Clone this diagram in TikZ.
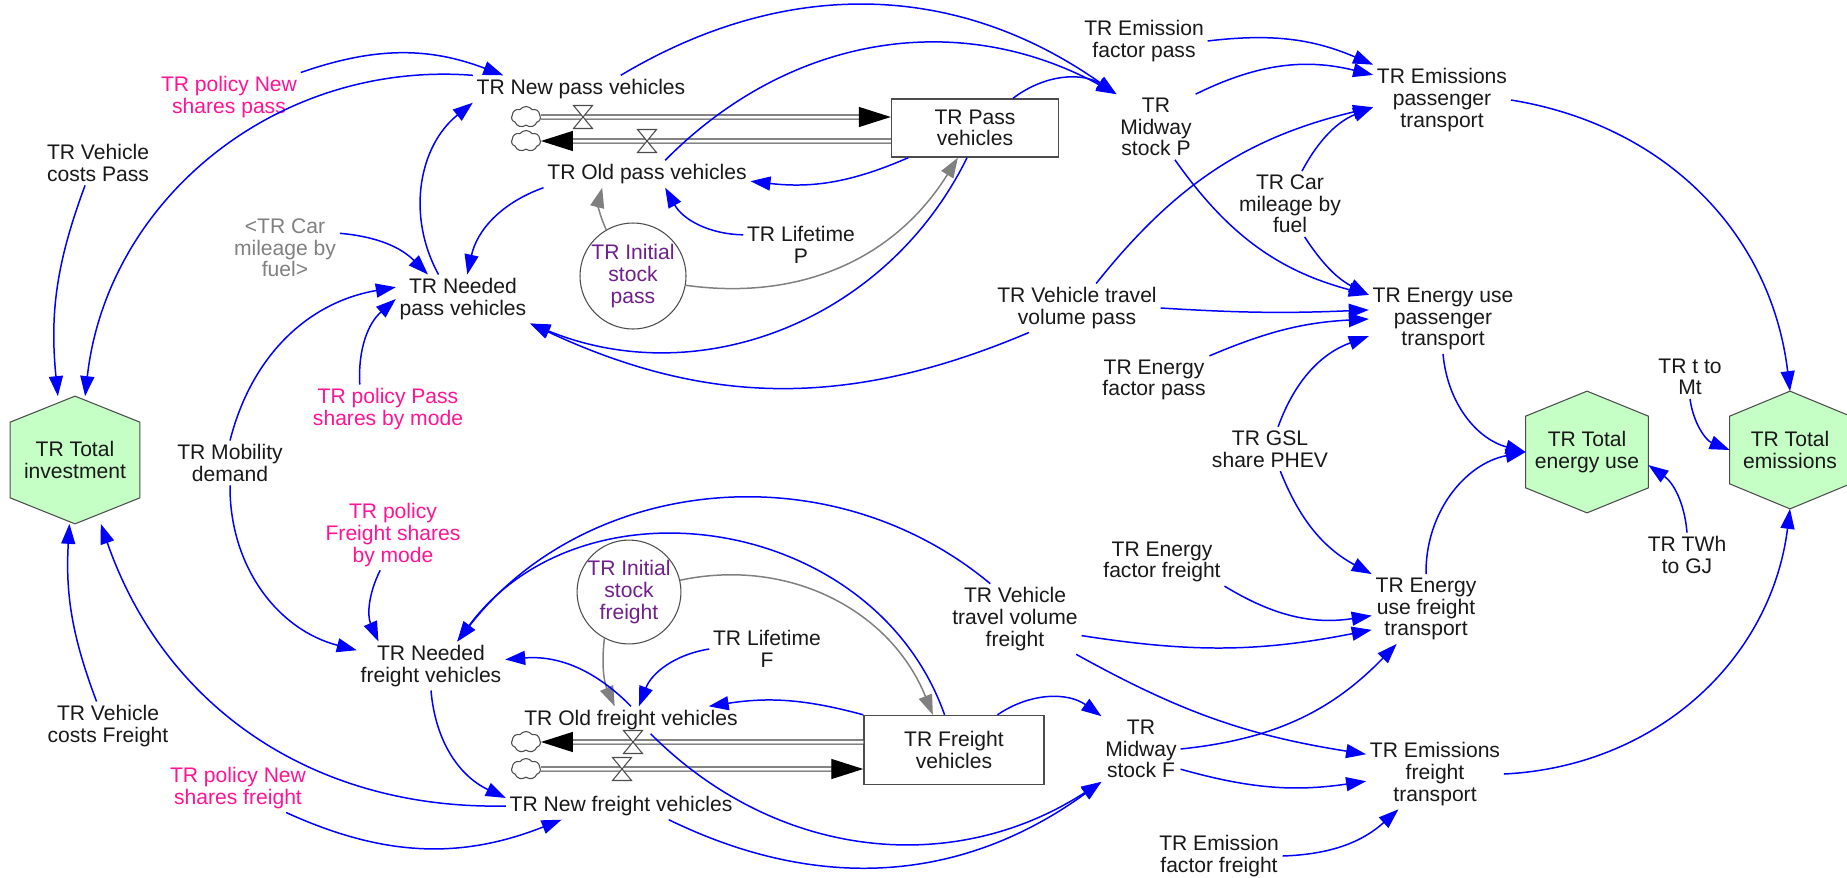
\documentclass[tikz,border=0pt]{standalone}
\usepackage{fontspec}
\setmainfont{Liberation Sans}
\usetikzlibrary{arrows.meta, shapes.symbols, backgrounds, calc}

\definecolor{linkblue}{RGB}{0,0,255}
\definecolor{policypink}{RGB}{255,20,147}
\definecolor{initpurple}{RGB}{112,32,140}
\definecolor{shadowgray}{RGB}{128,128,128}
\definecolor{outgreen}{RGB}{198,255,198}

\begin{document}
\begin{tikzpicture}[
    x=0.2mm, y=0.2mm,
    font=\fontsize{12}{12.3}\selectfont,
    >={Triangle[length=0.4cm,width=0.28cm]},
    var/.style={align=center, inner sep=2pt, text=black!90},
    policy/.style={var, text=policypink},
    shadow/.style={var, text=shadowgray},
    stock/.style={rectangle, draw=black!70, line width=0.8pt, fill=white, align=center, text=black!90},
    initial/.style={circle, draw=black!70, line width=0.6pt, fill=white, align=center, inner sep=0pt, text=initpurple},
    output/.style={var, inner sep=0pt},
    hexline/.style={draw=black!70, line width=0.6pt, fill=outgreen},
    link/.style={->, draw=linkblue, line width=0.85pt},
    initlink/.style={->, draw=shadowgray, line width=0.85pt},
    pipe/.style={draw=black!75, line width=0.7pt, double=white, double distance=0.06cm, -{Triangle[length=0.64cm,width=0.4cm,color=black]}},
    source/.style={cloud, cloud puffs=7, cloud puff arc=110, cloud ignores aspect, draw=black!70, fill=white, line width=0.6pt, minimum width=0.58cm, minimum height=0.42cm, inner sep=0pt},
    valve/.pic={\draw[black!70, line width=0.6pt, fill=white] (-9.5,11.5) -- (9.5,11.5) -- (-9.5,-11.5) -- (9.5,-11.5) -- cycle;}
]
\useasboundingbox (0,0) rectangle (1847,-877);

% Outputs (hexagons drawn on background)
\node[output, minimum width=2.58cm, minimum height=2.54cm] at (75,-460) (inv) {TR Total\\investment};
\node[output, minimum width=2.44cm, minimum height=2.42cm] at (1587,-452) (totEn) {TR Total\\energy use};
\node[output, minimum width=2.4cm, minimum height=2.34cm] at (1790,-450) (totEm) {TR Total\\emissions};

% Passenger stock and flows
\node[stock, minimum width=3.34cm, minimum height=1.16cm] at (975,-128) (passBox) {TR Pass\\vehicles};
\node[source] at (526,-117) (srcNP) {};
\node[source] at (526,-141) (srcOP) {};
\draw[pipe] (srcNP) -- (passBox.west |- srcNP);
\draw[pipe] (passBox.west |- srcOP) -- (srcOP);
\pic at (583,-117) {valve};
\pic at (647,-141) {valve};
\node[var] at (581,-89) (newPass) {TR New pass vehicles};
\node[var] at (647,-174) (oldPass) {TR Old pass vehicles};
\node[initial, minimum size=2.12cm] at (633,-276) (initPass) {TR Initial\\stock\\pass};

% Freight stock and flows
\node[stock, minimum width=3.6cm, minimum height=1.38cm] at (954,-750) (frBox) {TR Freight\\vehicles};
\node[source] at (526,-742) (srcOF) {};
\node[source] at (526,-769) (srcNF) {};
\draw[pipe] (frBox.west |- srcOF) -- (srcOF);
\draw[pipe] (srcNF) -- (frBox.west |- srcNF);
\pic at (633,-742) {valve};
\pic at (622,-769) {valve};
\node[var] at (631,-720) (oldFr) {TR Old freight vehicles};
\node[var] at (621,-806) (newFr) {TR New freight vehicles};
\node[initial, minimum size=2.06cm] at (629,-592) (initFr) {TR Initial\\stock\\freight};

% Auxiliaries, left
\node[policy] at (229,-97) (polNewPass) {TR policy New\\shares pass};
\node[var] at (98,-163) (costPass) {TR Vehicle\\costs Pass};
\node[shadow] at (285,-248) (carMilG) {<TR Car\\mileage by\\fuel>};
\node[var] at (463,-299) (needPass) {TR Needed\\pass vehicles};
\node[var] at (801,-245) (lifeP) {TR Lifetime\\P};
\node[policy] at (388,-409) (polPassMode) {TR policy Pass\\shares by mode};
\node[var] at (230,-463) (mobDem) {TR Mobility\\demand};
\node[policy] at (393,-535) (polFrMode) {TR policy\\Freight shares\\by mode};
\node[var] at (431,-666) (needFr) {TR Needed\\freight vehicles};
\node[var] at (767,-649) (lifeF) {TR Lifetime\\F};
\node[var] at (108,-726) (costFr) {TR Vehicle\\costs Freight};
\node[policy] at (238,-788) (polNewFr) {TR policy New\\shares freight};

% Auxiliaries, right
\node[var] at (1144,-41) (emFacPass) {TR Emission\\factor pass};
\node[var] at (1156,-127) (midP) {TR\\Midway\\stock P};
\node[var] at (1442,-100) (emisPass) {TR Emissions\\passenger\\transport};
\node[var] at (1290,-204) (carMil) {TR Car\\mileage by\\fuel};
\node[var] at (1077,-308) (vtvPass) {TR Vehicle travel\\volume pass};
\node[var] at (1443,-319) (enPass) {TR Energy use\\passenger\\transport};
\node[var] at (1154,-380) (enFacPass) {TR Energy\\factor pass};
\node[var] at (1690,-377) (tToMt) {TR t to\\Mt};
\node[var] at (1270,-449) (gsl) {TR GSL\\share PHEV};
\node[var] at (1162,-562) (enFacFr) {TR Energy\\factor freight};
\node[var] at (1015,-619) (vtvFr) {TR Vehicle\\travel volume\\freight};
\node[var] at (1687,-555) (twh) {TR TWh\\to GJ};
\node[var] at (1426,-609) (enFr) {TR Energy\\use freight\\transport};
\node[var] at (1141,-749) (midF) {TR\\Midway\\stock F};
\node[var] at (1435,-774) (emisFr) {TR Emissions\\freight\\transport};
\node[var] at (1219,-856) (emFacFr) {TR Emission\\factor freight};

% Links, passenger side
\draw[link] (polNewPass.north east) to[bend left=20] (newPass.170);
\draw[link] (newPass.north west) to[bend right=44] (inv.81);
\draw[link] (costPass.240) to[bend right=13] (inv.105);
\draw[link] (needPass.135) to[bend left=40] (newPass.south west);
\draw[link] (oldPass.south west) to[bend right=29] (needPass.80);
\draw[link] (carMilG.15) to[bend left=20] (needPass.145);
\draw[link] (mobDem.north) to[bend left=33] (needPass.170);
\draw[link] (polPassMode.139) to[bend left=26] (needPass.west);
\draw[link] (newPass.19) to[bend left=33] (midP.north west);
\draw[link] (oldPass.37) to[bend left=37] (midP.north west);
\draw[link] (passBox.38) to[bend left=35] (midP.north west);
\draw[link] (passBox.204) to[bend left=15] (oldPass.-4);
\draw[link] (lifeP.170) to[bend left=30] (oldPass.-37);
\draw[initlink] (initPass.120) to[bend left=20] (oldPass.197);
\draw[initlink] (initPass.-10) to[bend right=33] (passBox.240);
\draw[link] (passBox.255) to[bend left=43] (needPass.south east);
\draw[link] (vtvPass.207) to[bend left=24] (needPass.south east);

% Links, passenger outputs
\draw[link] (emFacPass.east) to[bend left=15] (emisPass.north west);
\draw[link] (midP.north east) to[bend left=20] (emisPass.160);
\draw[link] (vtvPass.52) to[bend left=19] (emisPass.186);
\draw[link] (carMil.70) to[bend left=20] (emisPass.186);
\draw[link] (midP.-60) to[bend right=20] (enPass.162);
\draw[link] (carMil.-66) to[bend right=15] (enPass.162);
\draw[link] (vtvPass.east) to[bend right=3] (enPass.173);
\draw[link] (enFacPass.north east) to[bend left=10] (enPass.west);
\draw[link] (gsl.70) to[bend left=25] (enPass.193);
\draw[link] (emisPass.east) to[bend left=37] (totEm.north);
\draw[link] (enPass.south) to[bend right=35] (totEn.west);
\draw[link] (tToMt.south) to[bend right=30] (totEm.west);
\draw[link] (twh.north) to[bend right=25] (totEn.-12);

% Links, freight outputs
\draw[link] (gsl.-65) to[bend right=20] (enFr.north west);
\draw[link] (enFr.north) to[bend left=40] (totEn.west);
\draw[link] (emisFr.east) to[bend right=40] (totEm.south);
\draw[link] (enFacFr.south east) to[bend right=20] (enFr.187);
\draw[link] (vtvFr.-14) to[bend right=10] (enFr.201);
\draw[link] (vtvFr.-30) to[bend right=10] (emisFr.164);
\draw[link] (midF.east) to[bend right=20] (enFr.-130);
\draw[link] (midF.-27) to[bend right=12] (emisFr.186);
\draw[link] (emFacFr.east) to[bend right=20] (emisFr.-136);

% Links, freight side
\draw[link] (frBox.39) to[bend left=35] (midF.north west);
\draw[link] (frBox.north west) to[bend right=12] (oldFr.10);
\draw[link] (lifeF.west) to[bend right=30] (oldFr.60);
\draw[initlink] (initFr.-118) to[bend right=15] (oldFr.140);
\draw[initlink] (initFr.13) to[bend left=40] (frBox.121);
\draw[link] (oldFr.-35) to[bend right=39] (midF.south west);
\draw[link] (newFr.-16) to[bend right=31] (midF.south west);
\draw[link] (vtvFr.125) to[bend right=46] (needFr.43);
\draw[link] (frBox.105) to[bend right=62, looseness=1.1] (needFr.43);
\draw[link] (oldFr.north) to[bend right=25] (needFr.5);
\draw[link] (needFr.south) to[bend right=30] (newFr.176);
\draw[link] (newFr.west) to[bend left=36] (inv.-68);
\draw[link] (costFr.115) to[bend left=12] (inv.265);
\draw[link] (polNewFr.-27) to[bend right=23] (newFr.193);
\draw[link] (mobDem.south) to[bend right=38] (needFr.168);
\draw[link] (polFrMode.250) to[bend right=25] (needFr.155);

% Hexagon outlines
\begin{scope}[on background layer]
    \foreach \hexname/\hexdrop in {inv/26, totEn/25, totEm/25}
        \draw[hexline] (\hexname.north) -- ($(\hexname.north east)+(0,-\hexdrop)$) -- ($(\hexname.south east)+(0,\hexdrop)$) -- (\hexname.south) -- ($(\hexname.south west)+(0,\hexdrop)$) -- ($(\hexname.north west)+(0,-\hexdrop)$) -- cycle;
\end{scope}

\end{tikzpicture}
\end{document}
